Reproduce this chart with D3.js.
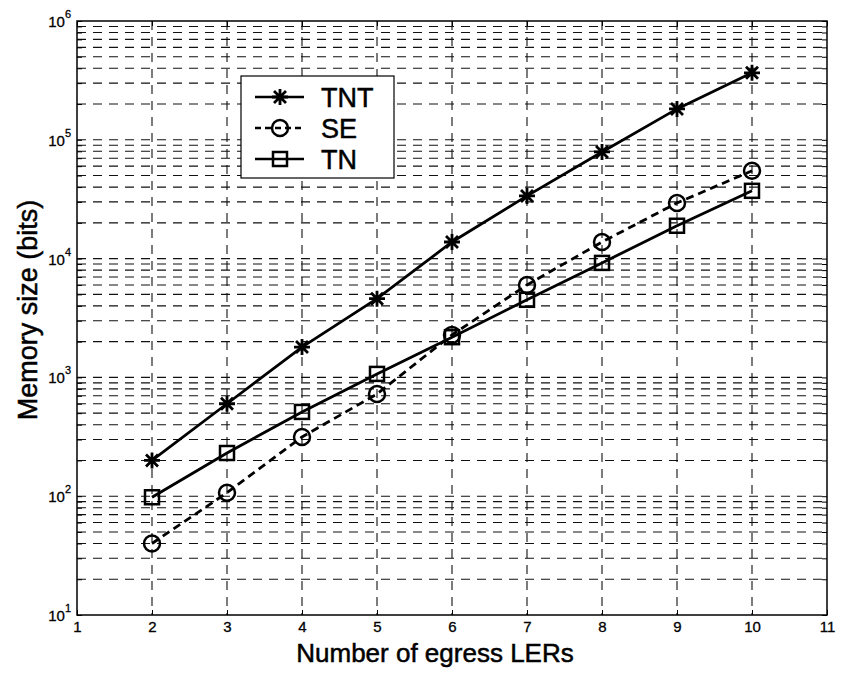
<!doctype html>
<html>
<head>
<meta charset="UTF-8">
<title>Memory size vs number of egress LERs</title>
<script src="https://cdnjs.cloudflare.com/ajax/libs/d3/7.8.5/d3.min.js"></script>
<style>
	body { margin: 0; background: #fff; }
	svg { display: block; font-family: "Liberation Sans", Arial, sans-serif; }
</style>
</head>
<body>
<svg id="chart" width="843" height="673"></svg>
<script>
	// values
	const egressLERs = [2, 3, 4, 5, 6, 7, 8, 9, 10];
	const tntValues = [200, 600, 1800, 4600, 13800, 33700, 79000, 182000, 366000];
	const seValues = [40, 107, 315, 725, 2280, 6000, 13800, 29400, 54800];
	const tnValues = [98, 231, 512, 1070, 2180, 4500, 9200, 18900, 37200];
	const xTicks = [1, 2, 3, 4, 5, 6, 7, 8, 9, 10, 11];
	const yDecades = [1, 2, 3, 4, 5, 6];
	const seriesNames = ['TNT', 'SE', 'TN'];

	const svg = d3.select('#chart');
	const margin = {top: 21, right: 16, bottom: 58, left: 77};
	const width = 843 - margin.left - margin.right;
	const height = 673 - margin.top - margin.bottom;

	const x = d3.scaleLinear().domain([1, 11]).range([0, width]);
	const y = d3.scaleLog().domain([10, 1e6]).range([height, 0]);

	const g = svg.append('g')
		.attr('transform', 'translate(' + margin.left + ',' + margin.top + ')');

	// grid, MATLAB style dashed
	const yGrid = y.ticks().filter(function(v){ return v > 10 && v < 1e6; });
	g.append('g').selectAll('line')
		.data(yGrid)
		.join('line')
		.attr('x1', 0).attr('x2', width)
		.attr('y1', function(d){ return y(d); })
		.attr('y2', function(d){ return y(d); })
		.attr('stroke', '#111')
		.attr('stroke-width', 1.1)
		.attr('stroke-dasharray', '9,7');

	g.append('g').selectAll('line')
		.data(xTicks.slice(1, -1))
		.join('line')
		.attr('x1', function(d){ return x(d); })
		.attr('x2', function(d){ return x(d); })
		.attr('y1', 0).attr('y2', height)
		.attr('stroke', '#111')
		.attr('stroke-width', 1.1)
		.attr('stroke-dasharray', '9,7');

	// inward ticks on every side
	const xAxisB = d3.axisBottom(x).tickValues(xTicks).tickSize(-5).tickPadding(6)
		.tickFormat(d3.format('d'));
	const gx = g.append('g').attr('transform', 'translate(0,' + height + ')').call(xAxisB);
	gx.select('.domain').remove();
	gx.selectAll('text').attr('font-size', 15).attr('fill', '#000')
		.attr('stroke', '#000').attr('stroke-width', 0.3)
		.attr('font-family', '"Liberation Sans", Arial, sans-serif');
	g.append('g').call(d3.axisTop(x).tickValues(xTicks).tickSize(-5).tickFormat(''))
		.select('.domain').remove();

	const yAxisL = d3.axisLeft(y).tickSize(-5).tickFormat('');
	g.append('g').call(yAxisL).select('.domain').remove();
	const yAxisR = d3.axisRight(y).tickSize(-5).tickFormat('');
	g.append('g').attr('transform', 'translate(' + width + ',0)').call(yAxisR)
		.select('.domain').remove();
	g.selectAll('.tick line').attr('stroke', '#000');

	// y tick labels as 10 with superscript exponent
	const yLabels = g.append('g').selectAll('text')
		.data(yDecades)
		.join('text')
		.attr('x', -6)
		.attr('y', function(d){ return y(Math.pow(10, d)) + 6; })
		.attr('font-size', 15)
		.attr('stroke', '#000').attr('stroke-width', 0.3)
		.attr('text-anchor', 'end');
	yLabels.append('tspan').text('10');
	yLabels.append('tspan')
		.attr('font-size', 11)
		.attr('dy', -9)
		.text(function(d){ return d; });

	// box
	g.append('rect')
		.attr('width', width).attr('height', height)
		.attr('fill', 'none').attr('stroke', '#000').attr('stroke-width', 1.5);

	// axis titles
	svg.append('text')
		.attr('x', 435).attr('y', 662)
		.attr('text-anchor', 'middle')
		.attr('font-size', 26)
		.attr('stroke', '#000').attr('stroke-width', 0.5)
		.text('Number of egress LERs');

	svg.append('text')
		.attr('transform', 'translate(37,' + 310 + ') rotate(-90)')
		.attr('text-anchor', 'middle')
		.attr('font-size', 27)
		.attr('stroke', '#000').attr('stroke-width', 0.5)
		.text('Memory size (bits)');

	// series
	const series = [
		{name: seriesNames[0], values: tntValues, dash: null, marker: 'star'},
		{name: seriesNames[1], values: seValues, dash: '8,5', marker: 'circle'},
		{name: seriesNames[2], values: tnValues, dash: null, marker: 'square'}
	];

	const line = d3.line()
		.x(function(d){ return x(d[0]); })
		.y(function(d){ return y(d[1]); });

	function drawMarker(sel, type, cx, cy) {
		if (type === 'star') {
			const r = 8, k = 6;
			sel.append('path')
				.attr('d', 'M' + (cx - r) + ',' + cy + 'H' + (cx + r) +
					'M' + cx + ',' + (cy - r) + 'V' + (cy + r) +
					'M' + (cx - k) + ',' + (cy - k) + 'L' + (cx + k) + ',' + (cy + k) +
					'M' + (cx - k) + ',' + (cy + k) + 'L' + (cx + k) + ',' + (cy - k))
				.attr('stroke', '#000').attr('stroke-width', 2.8).attr('fill', 'none');
		} else if (type === 'circle') {
			sel.append('circle')
				.attr('cx', cx).attr('cy', cy).attr('r', 8)
				.attr('fill', 'none').attr('stroke', '#000').attr('stroke-width', 2.5);
		} else {
			sel.append('rect')
				.attr('x', cx - 7).attr('y', cy - 7)
				.attr('width', 14).attr('height', 14)
				.attr('fill', 'none').attr('stroke', '#000').attr('stroke-width', 2.5);
		}
	}

	series.forEach(function(s){
		const pts = egressLERs.map(function(v, i){ return [v, s.values[i]]; });
		g.append('path')
			.datum(pts)
			.attr('d', line)
			.attr('fill', 'none')
			.attr('stroke', '#000')
			.attr('stroke-width', 2.8)
			.attr('stroke-dasharray', s.dash);
		const mg = g.append('g');
		pts.forEach(function(p){
			drawMarker(mg, s.marker, x(p[0]), y(p[1]));
		});
	});

	// legend
	const legend = svg.append('g');
	legend.append('rect')
		.attr('x', 241).attr('y', 76)
		.attr('width', 153).attr('height', 102)
		.attr('fill', '#fff').attr('stroke', '#000').attr('stroke-width', 1.2);
	const legendY = [97, 128, 159];
	series.forEach(function(s, i){
		legend.append('line')
			.attr('x1', 255).attr('x2', 304)
			.attr('y1', legendY[i]).attr('y2', legendY[i])
			.attr('stroke', '#000').attr('stroke-width', 2.5)
			.attr('stroke-dasharray', s.dash ? '6,4' : null);
		drawMarker(legend, s.marker, 280, legendY[i]);
		legend.append('text')
			.attr('x', 321).attr('y', legendY[i] + 10)
			.attr('font-size', 27)
			.attr('stroke', '#000').attr('stroke-width', 0.5)
			.text(s.name);
	});
</script>
</body>
</html>
